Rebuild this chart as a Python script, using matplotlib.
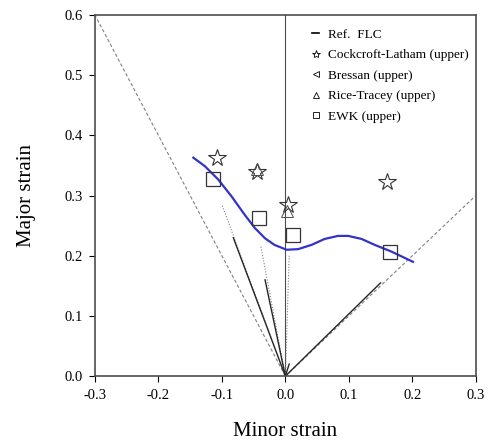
import numpy as np
import matplotlib.pyplot as plt

plt.rcParams['font.family'] = ['Liberation Serif', 'DejaVu Serif']

# reference FLC (blue curve)
flc_x = [-0.145, -0.127, -0.106, -0.085, -0.064, -0.048, -0.032, -0.017, 0.002,
         0.02, 0.041, 0.062, 0.083, 0.099, 0.12, 0.141, 0.167, 0.201]
flc_y = [0.363, 0.349, 0.327, 0.299, 0.268, 0.246, 0.229, 0.218, 0.21,
         0.211, 0.218, 0.228, 0.233, 0.233, 0.228, 0.218, 0.207, 0.19]

# predictions (upper)
cl_x = [-0.108, -0.045, 0.004, 0.16]
cl_y = [0.363, 0.34, 0.285, 0.323]
rt_x = [-0.045, 0.003]
rt_y = [0.345, 0.275]
ewk_x = [-0.114, -0.042, 0.012, 0.165]
ewk_y = [0.328, 0.262, 0.235, 0.207]

# strain paths: (end x, end y, solid-to x, solid-to y)
paths = [(-0.1, 0.285, -0.082, 0.23),
         (-0.039, 0.218, -0.032, 0.16),
         (0.006, 0.2, 0.006, 0.02),
         (0.3, 0.3, 0.15, 0.155)]

fig = plt.figure(figsize=(4.92, 4.42), dpi=100)
ax = fig.add_axes([0.193, 0.149, 0.774, 0.817])

# uniaxial / biaxial guides
ax.plot([0, -0.3], [0, 0.6], color='gray', lw=0.8, ls=(0, (3, 2)))
ax.plot([0, 0], [0, 0.6], color='0.3', lw=0.8)

for ex, ey, sx, sy in paths:
    if ex > 0.1:
        ax.plot([0, ex], [0, ey], color='gray', lw=0.8, ls=(0, (3, 2)))
    else:
        ax.plot([0, ex], [0, ey], color='gray', lw=0.8, ls=(0, (1, 1.5)))
    ax.plot([0, sx], [0, sy], color='0.15', lw=1.0)

ax.plot(flc_x, flc_y, color='#3333cc', lw=1.6)

ax.plot(cl_x, cl_y, ls='none', marker='*', ms=13, mfc='none', mec='0.2', mew=0.8)
ax.plot(rt_x, rt_y, ls='none', marker='^', ms=9, mfc='none', mec='0.3', mew=0.7)
ax.plot(ewk_x, ewk_y, ls='none', marker='s', ms=10, mfc='none', mec='0.2', mew=0.9)

# legend (proxy handles)
h = [plt.Line2D([], [], color='k', lw=1.2),
     plt.Line2D([], [], ls='none', marker='*', ms=6, mfc='none', mec='k', mew=0.6),
     plt.Line2D([], [], ls='none', marker='<', ms=5, mfc='none', mec='k', mew=0.6),
     plt.Line2D([], [], ls='none', marker='^', ms=5, mfc='none', mec='k', mew=0.6),
     plt.Line2D([], [], ls='none', marker='s', ms=5, mfc='none', mec='k', mew=0.6)]
labels = ['Ref.  FLC', 'Cockcroft-Latham (upper)', 'Bressan (upper)',
          'Rice-Tracey (upper)', 'EWK (upper)']
ax.legend(h, labels, loc='upper left', bbox_to_anchor=(0.54, 0.995), frameon=False,
          fontsize=9.5, handlelength=0.5, handletextpad=0.7, labelspacing=0.62)

ax.set_xlim(-0.3, 0.3)
ax.set_ylim(0, 0.6)
ax.set_xticks(np.arange(-0.3, 0.31, 0.1))
ax.set_yticks(np.arange(0, 0.61, 0.1))
ax.xaxis.set_major_formatter(plt.FormatStrFormatter('%.1f'))
ax.yaxis.set_major_formatter(plt.FormatStrFormatter('%.1f'))
ax.tick_params(direction='out', length=4, labelsize=10.5, pad=5)
ax.set_xlabel('Minor strain', fontsize=15, labelpad=14.5)
ax.set_ylabel('Major strain', fontsize=15, labelpad=20)
for s in ax.spines.values():
    s.set_color('0.3')
    s.set_linewidth(1.2)

plt.savefig('out.png', dpi=100)
